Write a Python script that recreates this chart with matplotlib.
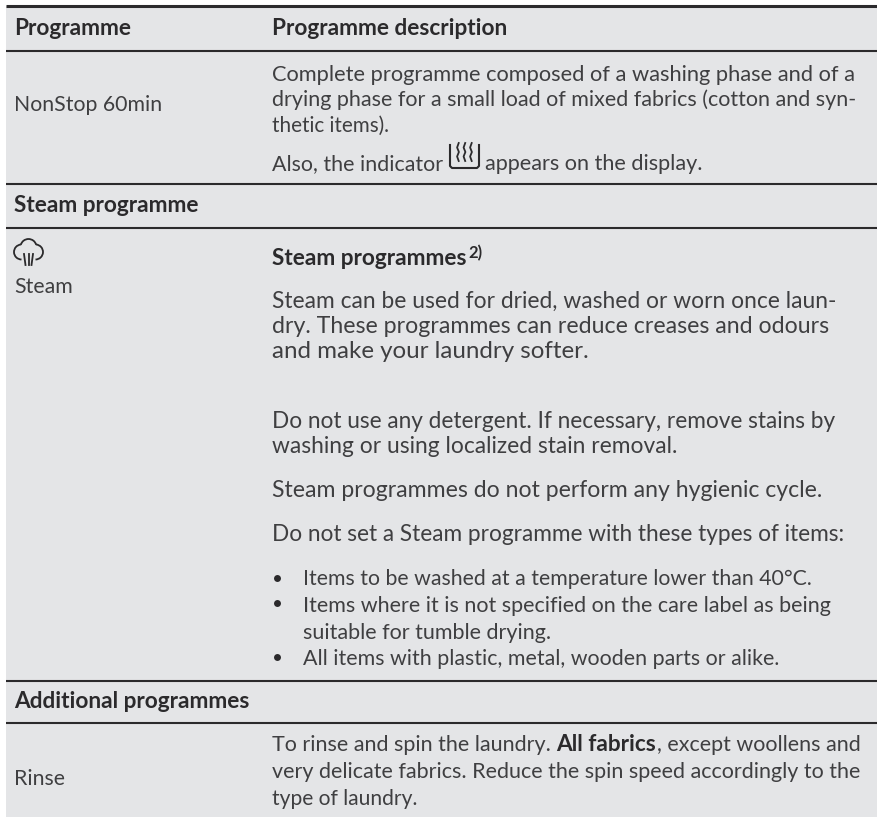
import matplotlib
matplotlib.use("Agg")
import matplotlib.pyplot as plt
from matplotlib.patches import Rectangle, Arc

W, H = 877, 817
BG = "#e4e5e7"
INK = "#3f3f41"
DARK = "#2b2a2c"

rules = [(6, 2.2), (50.5, 1.5), (184, 1.5), (228, 1.5), (681, 1.5), (723, 1.5)]

header = [("Programme", 14, 35), ("Programme description", 272, 35)]
sections = [("Steam programme", 14, 212), ("Additional programmes", 14, 708)]
left_labels = [("NonStop 60min", 14, 111), ("Steam", 14, 293), ("Rinse", 14, 785)]

body_text = [
    "Complete programme composed of a washing phase and of a",
    "drying phase for a small load of mixed fabrics (cotton and syn-",
    "thetic items).",
    "Steam can be used for dried, washed or worn once laun-",
    "dry. These programmes can reduce creases and odours",
    "and make your laundry softer.",
    "Do not use any detergent. If necessary, remove stains by",
    "washing or using localized stain removal.",
    "Steam programmes do not perform any hygienic cycle.",
    "Do not set a Steam programme with these types of items:",
    "Items to be washed at a temperature lower than 40°C.",
    "Items where it is not specified on the care label as being",
    "suitable for tumble drying.",
    "All items with plastic, metal, wooden parts or alike.",
    "very delicate fabrics. Reduce the spin speed accordingly to the",
    "type of laundry.",
]
body_x = [272, 272, 272, 272, 272, 272, 272, 272, 272, 272, 303, 303, 303, 303, 272, 272]
body_y = [81, 106, 132, 308, 333, 358, 428, 453, 497, 541, 585, 612, 639, 665, 778, 805]
body_end = [858, 857, 390, 837, 828, 590, 837, 678, 822, 848, 812, 833, 551, 779, 862, 417]
bullets = [(277, 578), (277, 603), (277, 657)]

FS = 15.3
FB = 16.3

fig = plt.figure(figsize=(W / 100, H / 100), dpi=100, facecolor="white")
ax = fig.add_axes([0, 0, 1, 1])
ax.set_xlim(0, W)
ax.set_ylim(H, 0)
ax.axis("off")
ax.add_patch(Rectangle((6, 6), W - 6, H - 6, fc=BG, ec="none", zorder=0))
for y, lw in rules:
    ax.plot([6, W], [y, y], color=DARK, lw=lw, solid_capstyle="butt", zorder=1)


def put(s, x, y, bold=False, size=None, end=None):
    t = ax.text(x, y, s, family="Lato", fontsize=size or (FB if bold else FS),
                weight="bold" if bold else "normal",
                color=DARK if bold else INK, va="baseline", ha="left")
    if end is not None:
        bb = t.get_window_extent(fig.canvas.get_renderer())
        t.set_fontsize(t.get_fontsize() * (end - x) / bb.width)
    return t


for s, x, y in header + sections:
    put(s, x, y, bold=True)
for s, x, y in left_labels:
    put(s, x, y)
for s, x, y, e in zip(body_text, body_x, body_y, body_end):
    put(s, x, y, end=e)

put("Steam programmes", 272, 265, bold=True)
put("2)", 468, 258, bold=True, size=12)

put("To rinse and spin the laundry. ", 272, 751, size=15.5)
put("All fabrics", 556, 751, bold=True)
put(", except woollens and", 657, 751, size=15.45)

put("Also, the indicator", 272, 170, end=443)
x0 = 450
ax.plot([x0, x0, x0 + 2, x0 + 27, x0 + 29, x0 + 29],
        [145, 166, 168, 168, 166, 145], color=DARK, lw=1.5, zorder=3)
for dx in (8, 14.5, 21):
    xs = [x0 + dx + v for v in (0.7, -0.9, 0.9, -0.9, 0.7)]
    ax.plot(xs, [143, 147.5, 152, 156.5, 161], color=DARK, lw=1.3, zorder=3)
put("appears on the display.", 485, 170, end=703)

cx = 28.5
for (ax0, ay0, w, h, a1, a2) in [(cx - 7, 252, 15, 15, 90, 265), (cx + 7, 252, 15, 15, -85, 90),
                                 (cx, 247, 16, 16, 195, 345)]:
    ax.add_patch(Arc((ax0, ay0), w, h, theta1=a1, theta2=a2, color=DARK, lw=1.3, zorder=3))
for x1, x2 in [(-4.5, -3), (0, 0), (4.5, 3)]:
    ax.plot([cx + x1, cx + x2], [254, 265], color=DARK, lw=1.3, zorder=3)

for x, y in bullets:
    ax.plot([x], [y], "o", ms=5, color=DARK, mec="none", zorder=3)

fig.savefig("out.png", dpi=100, facecolor="white")
